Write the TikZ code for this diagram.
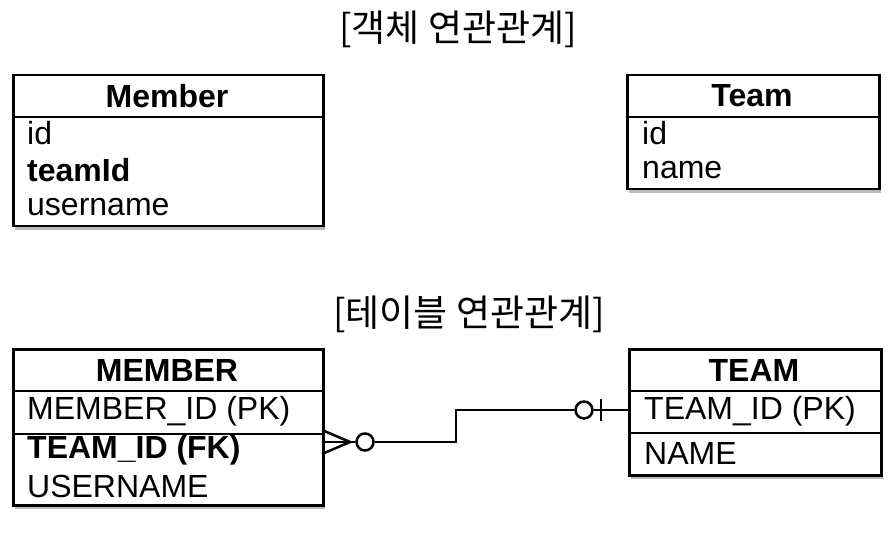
\documentclass[tikz,border=0pt]{standalone}
\usepackage{fontspec}
\setmainfont{Liberation Sans}
\newfontfamily\kofont{Noto Sans CJK KR}
\usetikzlibrary{shadows}
\tikzset{
  box/.style={draw=black,line width=2.5pt,fill=white,inner sep=0pt,anchor=north west,
    drop shadow={shadow xshift=1.5pt,shadow yshift=-3.5pt,opacity=0.45,fill=black!60}},
  sep/.style={line width=2.5pt},
  head/.style={font=\fontsize{32}{32}\selectfont\bfseries},
  row/.style={anchor=west,inner sep=0pt,font=\fontsize{32}{32}\selectfont},
  brow/.style={row,font=\fontsize{32}{32}\selectfont\bfseries},
  title/.style={font=\kofont\fontsize{37}{37}\selectfont,inner sep=0pt},
  conn/.style={line width=2.5pt,line join=miter},
  ring/.style={draw,circle,line width=2.5pt,minimum size=17pt,inner sep=0pt,fill=white}
}
\begin{document}
\begin{tikzpicture}[x=1pt,y=-1pt]
\useasboundingbox (0,0) rectangle (893,537);

\node[title] (t1) at (458,29) {[객체 연관관계]};
\node[title] (t2) at (469,314) {[테이블 연관관계]};

% Member (object)
\node[box,minimum width=310pt,minimum height=151pt] (mem) at (12,74) {};
\draw[sep] (12,117) -- (322,117);
\node[head] (memh) at (167,96) {Member};
\node[row] (m1) at (27,133) {id};
\node[brow] (m2) at (27,170) {teamId};
\node[row] (m3) at (27,207) {username};

% Team (object)
\node[box,minimum width=252pt,minimum height=114pt] (team) at (626,74) {};
\draw[sep] (626,117) -- (878,117);
\node[head] (teamh) at (752,96) {Team};
\node[row] (t1a) at (642,133) {id};
\node[row] (t1b) at (642,170) {name};

% MEMBER (table)
\node[box,minimum width=310pt,minimum height=156pt] (MEM) at (12,348) {};
\draw[sep] (12,391) -- (322,391);
\draw[sep] (12,434) -- (322,434);
\node[head] (MEMh) at (167,370) {MEMBER};
\node[row] (M1) at (27,411) {MEMBER\_ID (PK)};
\node[brow] (M2) at (27,450) {TEAM\_ID (FK)};
\node[row] (M3) at (27,486) {USERNAME};

% TEAM (table)
\node[box,minimum width=252pt,minimum height=126pt] (TEAM) at (628,348) {};
\draw[sep] (628,391) -- (880,391);
\draw[sep] (628,433) -- (880,433);
\node[head] (TEAMh) at (754,370) {TEAM};
\node[row] (T1) at (644,411) {TEAM\_ID (PK)};
\node[row] (T2) at (644,453) {NAME};

% connector
\coordinate (a) at (MEM.east |- 0,442);
\coordinate (b) at (TEAM.west |- 0,410);
\node[ring] (c1) at (365,442) {};
\node[ring] (c2) at (584,410) {};
\draw[conn] (322,430) -- (350,442) -- (322,454);
\draw[conn] (a) -- (c1.west);
\draw[conn] (c1.east) -- (456,442) -- (456,410) -- (c2.west);
\draw[conn] (c2.east) -- (b);
\draw[conn] (601,399) -- (601,421);
\end{tikzpicture}
\end{document}
